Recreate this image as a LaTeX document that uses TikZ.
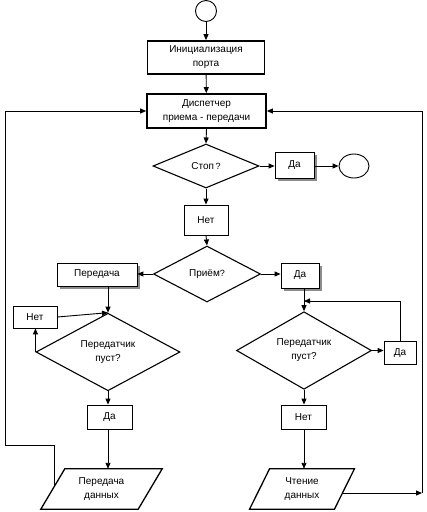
\documentclass[tikz,border=0pt]{standalone}
\usepackage{fontspec}
\setmainfont{Liberation Sans}
\usetikzlibrary{shapes.geometric,arrows.meta,shadows}
\begin{document}
\begin{tikzpicture}[x=1pt,y=-1pt,
  every node/.style={font=\fontsize{10}{14}\selectfont, align=center, inner sep=0pt},
  box/.style={draw, line width=0.8pt, fill=white},
  bigbox/.style={draw, line width=1.7pt, fill=white},
  shbox/.style={box, drop shadow={shadow xshift=2.5pt, shadow yshift=-2.5pt, fill=black!45, opacity=1}},
  dia/.style={diamond, draw, line width=1.1pt, fill=white},
  term/.style={ellipse, draw, line width=0.9pt},
  io/.style={rectangle, minimum height=40pt},
  arr/.style={line width=0.9pt, -{Triangle[length=6pt,width=5pt]}},
  ln/.style={line width=0.9pt}]
\useasboundingbox (0,0) rectangle (427,512);
% nodes
\node[term, minimum width=21pt, minimum height=21pt] (st) at (206,11) {};
\node[bigbox, minimum width=117pt, minimum height=33pt] (init) at (206,57.5) {Инициализация\\порта};
\node[bigbox, minimum width=119pt, minimum height=34pt] (disp) at (206.5,111) {Диспетчер\\приема - передачи};
\node[dia, minimum width=106pt, minimum height=44pt] (stop) at (206,166) {Стоп\,{\small ?}};
\node[shbox, minimum width=39pt, minimum height=26pt] (yes1) at (294.5,165) {Да};
\node[term, minimum width=30pt, minimum height=24pt] (endc) at (354,166) {};
\node[box, minimum width=44pt, minimum height=30pt] (no1) at (206,220) {Нет};
\node[dia, minimum width=107pt, minimum height=56pt] (recv) at (207,274) {Приём{\small ?}};
\node[shbox, minimum width=80pt, minimum height=23pt] (send) at (97,274.5) {Передача};
\node[shbox, minimum width=38pt, minimum height=25pt] (yes2) at (300,275.5) {Да};
\node[dia, minimum width=144pt, minimum height=70pt] (ldia) at (108,352) {Передатчик\\пуст?};
\node[box, minimum width=44pt, minimum height=22pt] (nol) at (35,317) {Нет};
\node[box, minimum width=45pt, minimum height=24pt] (yl) at (109.5,417) {Да};
\node[io, minimum width=97pt] (pd) at (101.5,489) {Передача\\данных};
\node[dia, minimum width=135pt, minimum height=75pt] (rdia) at (304,350.5) {Передатчик\\пуст?};
\node[box, minimum width=32pt, minimum height=23pt] (yr) at (400,353) {Да};
\node[box, minimum width=45pt, minimum height=24pt] (nor) at (303.5,417) {Нет};
\node[io, minimum width=84.5pt] (rd) at (302,489) {Чтение\\данных};
% parallelograms
\draw[line width=1.3pt] ([xshift=12pt]pd.north west) -- ([xshift=12pt]pd.north east) -- ([xshift=-12pt]pd.south east) -- ([xshift=-12pt]pd.south west) -- cycle;
\draw[line width=1.3pt] ([xshift=10pt]rd.north west) -- ([xshift=10pt]rd.north east) -- ([xshift=-10pt]rd.south east) -- ([xshift=-10pt]rd.south west) -- cycle;
% coordinates
\coordinate (lb) at (54,487);
\coordinate (lm) at (54,445);
\coordinate (lc) at (5,445);
\coordinate (rb) at (342.6,493);
\coordinate (rc) at (422,493);
\coordinate (jr) at (304,301);
% connectors
\draw[arr] (st) -- (init);
\draw[arr] (init) -- (disp);
\draw[arr] (disp.south) -- (stop.north);
\draw[arr] (stop.east) -- (yes1.west |- stop.east);
\draw[arr] (yes1.east |- endc.west) -- (endc.west);
\draw[arr] (stop.south) -- (no1.north);
\draw[arr] (no1.south) -- (recv.north);
\draw[arr] (recv.west) -- (send.east |- recv.west);
\draw[arr] (recv.east) -- (yes2.west |- recv.east);
\draw[arr] (send.south -| ldia.north) -- (ldia.north);
\draw[arr] (nol.east) -- (ldia.north);
\draw[arr] (ldia.west) -- (ldia.west |- nol.south);
\draw[arr] (ldia.south) -- (ldia.south |- yl.north);
\draw[arr] (yl.south -| ldia.south) -- (ldia.south |- pd.north);
\draw[arr] (yes2.south -| rdia.north) -- (rdia.north);
\draw[arr] (rdia.east) -- (yr.west |- rdia.east);
\draw[arr] (yr.north) |- (jr);
\draw[arr] (rdia.south) -- (rdia.south |- nor.north);
\draw[arr] (nor.south -| rdia.south) -- (rdia.south |- rd.north);
\draw[arr] (lb) -- (lm) -- (lc) |- (disp.west);
\draw[arr] (rb) -- (rc);
\draw[arr] (rc) |- (disp.east);
\end{tikzpicture}
\end{document}
